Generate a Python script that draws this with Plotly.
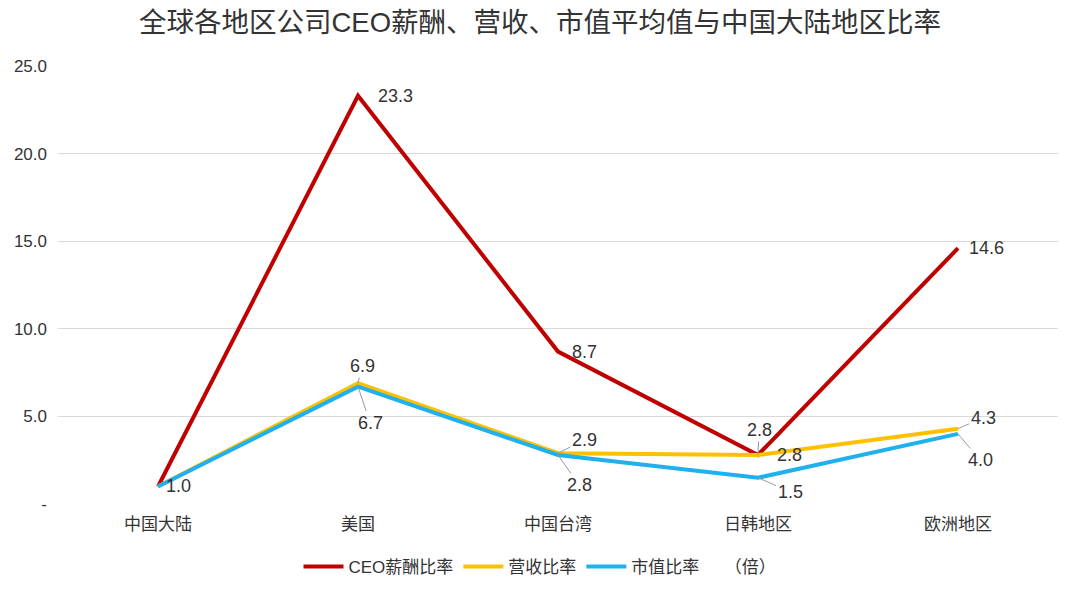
import plotly.graph_objects as go

regions = ["中国大陆", "美国", "中国台湾", "日韩地区", "欧洲地区"]
ceo_pay_ratio = [1.0, 23.3, 8.7, 2.8, 14.6]
revenue_ratio = [1.0, 6.9, 2.9, 2.8, 4.3]
market_cap_ratio = [1.0, 6.7, 2.8, 1.5, 4.0]
y_tick_vals = [0, 5, 10, 15, 20, 25]
y_tick_text = ["-", "5.0", "10.0", "15.0", "20.0", "25.0"]

FONT = "Liberation Sans, Noto Sans CJK SC, sans-serif"
TXT = "#333333"
LBL = 18

fig = go.Figure()
fig.add_trace(go.Scatter(x=regions, y=ceo_pay_ratio, mode="lines", name="CEO薪酬比率",
                         line=dict(color="#C00000", width=4)))
fig.add_trace(go.Scatter(x=regions, y=revenue_ratio, mode="lines", name="营收比率",
                         line=dict(color="#FFC000", width=4)))
fig.add_trace(go.Scatter(x=regions, y=market_cap_ratio, mode="lines", name="市值比率\u3000\u3000（倍）",
                         line=dict(color="#20B0EE", width=4)))

ann = []
def plain(i, series, dx, dy=0):
    ann.append(dict(x=regions[i], y=series[i], text=f"{series[i]:.1f}", showarrow=False,
                    xshift=dx, yshift=dy, font=dict(size=LBL, color=TXT, family=FONT)))

def lead(i, series, ax, ay):
    ann.append(dict(x=regions[i], y=series[i], text=f"{series[i]:.1f}", showarrow=True,
                    ax=ax, ay=ay, arrowhead=0, arrowwidth=1, arrowcolor="#9a9a9a",
                    standoff=0, startstandoff=0,
                    font=dict(size=LBL, color=TXT, family=FONT)))

plain(0, market_cap_ratio, 20)
plain(1, ceo_pay_ratio, 37)
plain(2, ceo_pay_ratio, 26)
plain(4, ceo_pay_ratio, 28)
plain(3, revenue_ratio, 31)
lead(1, revenue_ratio, 4, -17)
lead(1, market_cap_ratio, 12, 36)
lead(2, revenue_ratio, 26, -13)
lead(2, market_cap_ratio, 21, 30)
lead(3, ceo_pay_ratio, 1, -25)
lead(3, market_cap_ratio, 32, 14)
lead(4, revenue_ratio, 25, -11)
lead(4, market_cap_ratio, 22, 26)

fig.update_layout(
    width=1080, height=591,
    paper_bgcolor="white", plot_bgcolor="white",
    margin=dict(l=58, r=22, t=66, b=87, autoexpand=False),
    font=dict(family=FONT, size=17, color=TXT),
    title=dict(text="全球各地区公司CEO薪酬、营收、市值平均值与中国大陆地区比率",
               x=0.5, xanchor="center", y=0.962, yanchor="middle",
               font=dict(size=27.5, color=TXT, family=FONT)),
    showlegend=True,
    legend=dict(orientation="h", x=0.482, xanchor="center", y=-0.144, yanchor="middle",
                font=dict(size=17, color=TXT, family=FONT), itemwidth=40,
                bgcolor="rgba(0,0,0,0)"),
    annotations=ann,
)
fig.update_xaxes(showgrid=False, zeroline=False, showline=False, ticks="", automargin=False,
                 range=[-0.5, 4.5], tickfont=dict(size=17, color=TXT), ticklabelstandoff=8)
fig.update_yaxes(range=[0, 25], tickvals=y_tick_vals, ticktext=y_tick_text, automargin=False,
                 showgrid=True, gridcolor="#d9d9d9", gridwidth=1, zeroline=False,
                 showline=False, ticks="", tickfont=dict(size=17, color=TXT), ticklabelstandoff=10)

fig.write_html("out.html", config={"displayModeBar": False},
               post_script="document.body.style.margin='0';")
